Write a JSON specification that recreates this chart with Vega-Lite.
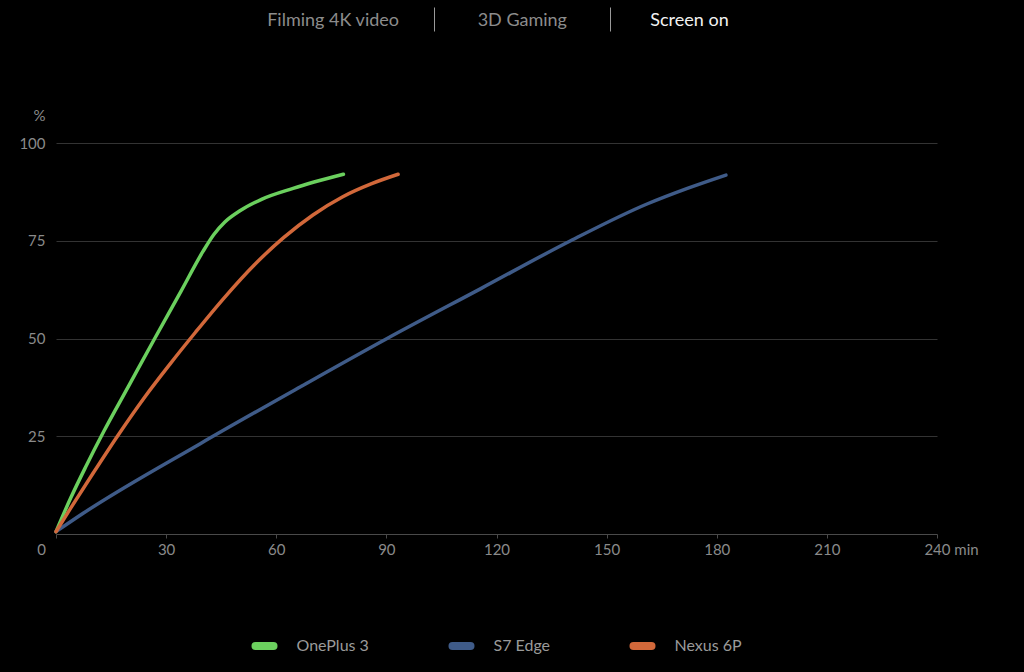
{
  "$schema": "https://vega.github.io/schema/vega-lite/v6.json",
  "width": 881,
  "height": 391,
  "autosize": {"type": "none"},
  "padding": {"left": 56, "top": 143, "right": 87, "bottom": 138},
  "background": "#000000",
  "config": {
    "view": {"stroke": null},
    "font": "Lato",
    "axis": {"labelFont": "Lato", "titleFont": "Lato"},
    "legend": {"labelFont": "Lato"}
  },
  "layer": [
    {
      "data": {
        "values": [
          {"device": "OnePlus 3", "minutes": 0, "charge": 0.6},
          {"device": "OnePlus 3", "minutes": 4, "charge": 9.2},
          {"device": "OnePlus 3", "minutes": 8, "charge": 17},
          {"device": "OnePlus 3", "minutes": 13, "charge": 26.2},
          {"device": "OnePlus 3", "minutes": 20, "charge": 38.2},
          {"device": "OnePlus 3", "minutes": 27, "charge": 50.2},
          {"device": "OnePlus 3", "minutes": 34, "charge": 62},
          {"device": "OnePlus 3", "minutes": 40, "charge": 72.2},
          {"device": "OnePlus 3", "minutes": 43, "charge": 76.6},
          {"device": "OnePlus 3", "minutes": 46, "charge": 79.8},
          {"device": "OnePlus 3", "minutes": 50, "charge": 82.6},
          {"device": "OnePlus 3", "minutes": 56, "charge": 85.6},
          {"device": "OnePlus 3", "minutes": 64.6, "charge": 88.4},
          {"device": "OnePlus 3", "minutes": 78.3, "charge": 92},
          {"device": "S7 Edge", "minutes": 0, "charge": 0.6},
          {"device": "S7 Edge", "minutes": 7.4, "charge": 5.3},
          {"device": "S7 Edge", "minutes": 39.3, "charge": 23.1},
          {"device": "S7 Edge", "minutes": 66.5, "charge": 37.6},
          {"device": "S7 Edge", "minutes": 90.2, "charge": 50},
          {"device": "S7 Edge", "minutes": 115.6, "charge": 62.7},
          {"device": "S7 Edge", "minutes": 140.2, "charge": 75},
          {"device": "S7 Edge", "minutes": 161, "charge": 84.4},
          {"device": "S7 Edge", "minutes": 172, "charge": 88.4},
          {"device": "S7 Edge", "minutes": 182.5, "charge": 91.8},
          {"device": "Nexus 6P", "minutes": 0, "charge": 0.6},
          {"device": "Nexus 6P", "minutes": 4, "charge": 6.6},
          {"device": "Nexus 6P", "minutes": 10, "charge": 15.4},
          {"device": "Nexus 6P", "minutes": 17, "charge": 25.4},
          {"device": "Nexus 6P", "minutes": 24, "charge": 34.8},
          {"device": "Nexus 6P", "minutes": 31, "charge": 43.4},
          {"device": "Nexus 6P", "minutes": 38, "charge": 51.6},
          {"device": "Nexus 6P", "minutes": 46, "charge": 60.6},
          {"device": "Nexus 6P", "minutes": 54, "charge": 68.8},
          {"device": "Nexus 6P", "minutes": 62, "charge": 75.8},
          {"device": "Nexus 6P", "minutes": 70, "charge": 81.6},
          {"device": "Nexus 6P", "minutes": 78, "charge": 86.2},
          {"device": "Nexus 6P", "minutes": 86, "charge": 89.6},
          {"device": "Nexus 6P", "minutes": 93.2, "charge": 92}
        ]
      },
      "mark": {"type": "line", "interpolate": "monotone", "strokeWidth": 3.5, "strokeCap": "round", "strokeJoin": "round"},
      "encoding": {
        "x": {
          "field": "minutes",
          "type": "quantitative",
          "scale": {"domain": [0, 240], "nice": false},
          "axis": {
            "orient": "bottom",
            "title": null,
            "values": [0, 30, 60, 90, 120, 150, 180, 210, 240],
            "labelExpr": "datum.value == 240 ? '240 min' : datum.label",
            "labelOffset": {"condition": [{"test": "datum.value === 0", "value": -15}, {"test": "datum.value === 240", "value": 14}], "value": 0},
            "grid": false,
            "domainColor": "#4a4a4a",
            "tickColor": "#4a4a4a",
            "tickSize": 4,
            "labelPadding": 4,
            "labelColor": "#8a8a8a",
            "labelFontSize": 15,
            "labelFlush": false,
            "labelOverlap": false
          }
        },
        "y": {
          "field": "charge",
          "type": "quantitative",
          "scale": {"domain": [0, 100], "nice": false},
          "axis": {
            "values": [25, 50, 75, 100],
            "domain": false,
            "ticks": false,
            "grid": true,
            "gridColor": "#333333",
            "gridWidth": 1,
            "labelPadding": 11,
            "labelColor": "#8a8a8a",
            "labelFontSize": 15,
            "title": "%",
            "titleAngle": 0,
            "titleX": -17,
            "titleY": -28,
            "titleAlign": "center",
            "titleBaseline": "middle",
            "titleFontSize": 15,
            "titleFontWeight": "normal",
            "titleColor": "#8a8a8a"
          }
        },
        "color": {
          "field": "device",
          "type": "nominal",
          "scale": {"domain": ["OnePlus 3", "S7 Edge", "Nexus 6P"], "range": ["#6bd05e", "#3f5b88", "#d2683a"]},
          "legend": {
            "orient": "none",
            "legendX": 195.5,
            "legendY": 490,
            "direction": "horizontal",
            "title": null,
            "symbolType": "stroke",
            "symbolSize": 324,
            "symbolStrokeWidth": 8,
            "labelFontSize": 16,
            "labelColor": "#9a9a9a",
            "labelOffset": 19,
            "columnPadding": 67,
            "encode": {"symbols": {"update": {"strokeCap": {"value": "round"}}}}
          }
        }
      }
    },
    {
      "data": {"values": [{"tab": "Filming 4K video"}, {"tab": "3D Gaming"}, {"tab": "Screen on"}]},
      "mark": {"type": "text", "text": ""},
      "encoding": {
        "x": {
          "field": "tab",
          "type": "nominal",
          "sort": null,
          "scale": {"type": "band", "paddingInner": 0, "paddingOuter": 1.082, "align": 0.5718},
          "axis": {
            "orient": "top",
            "offset": 112,
            "title": null,
            "domain": false,
            "grid": false,
            "tickBand": "extent",
            "tickSize": 24,
            "tickWidth": 1,
            "tickColor": "#9a9a9a",
            "tickOpacity": {"condition": {"test": "datum.value === 'Filming 4K video' || datum.value === '3D Gaming'", "value": 1}, "value": 0},
            "labelAngle": 0,
            "labelPadding": -13,
            "labelBaseline": "middle",
            "labelFontSize": 18,
            "labelLimit": 0,
            "labelColor": {"condition": {"test": "datum.value === 'Screen on'", "value": "#f2f2f2"}, "value": "#8c8c8c"},
            "labelOffset": {"condition": [{"test": "datum.value === 'Filming 4K video'", "value": -13}, {"test": "datum.value === 'Screen on'", "value": -9}], "value": 0}
          }
        }
      }
    }
  ],
  "resolve": {"scale": {"x": "independent"}, "axis": {"x": "independent"}}
}
